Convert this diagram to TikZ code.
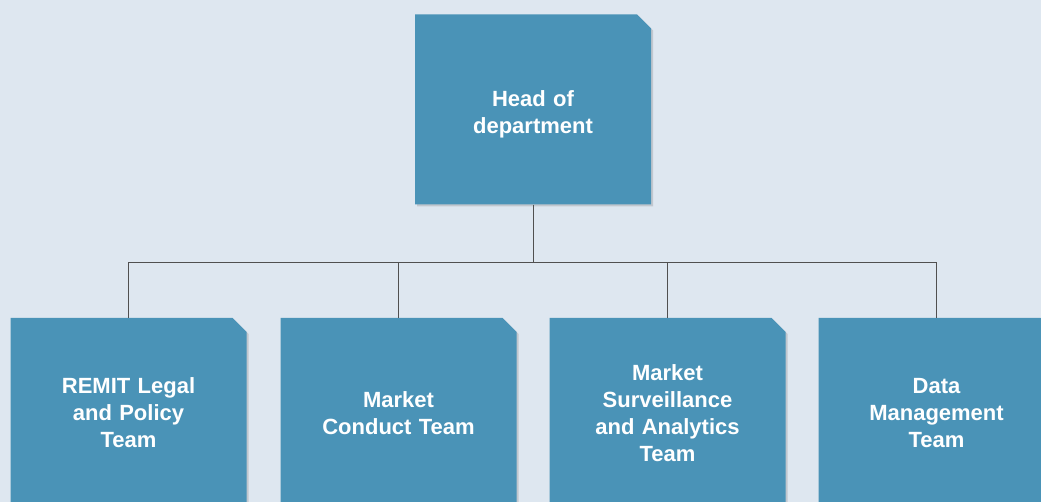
\documentclass[tikz,border=0pt]{standalone}
\usepackage{fontspec}
\setmainfont{Liberation Sans}
\usetikzlibrary{shapes.misc,shadows}

\definecolor{pagebg}{RGB}{222,231,240}
\definecolor{boxblue}{RGB}{74,147,183}
\definecolor{wire}{RGB}{80,80,80}

\begin{document}
\begin{tikzpicture}[x=1pt,y=-1pt,
    unit/.style={chamfered rectangle, chamfered rectangle corners=north east,
      chamfered rectangle xsep=7pt, chamfered rectangle ysep=7pt,
      fill=boxblue, draw=none, minimum width=236pt, minimum height=190pt,
      inner sep=0pt, text width=170pt, align=center, text=white,
      font=\bfseries\fontsize{22}{27}\selectfont,
      drop shadow={opacity=0.3, shadow xshift=2pt, shadow yshift=-2pt}}]
    \useasboundingbox (0,0) rectangle (1041,502);
    \clip (0,0) rectangle (1041,502);
    \fill[pagebg] (0,0) rectangle (1041,502);

    \node[unit] (head) at (533,109.5) {\rule{0pt}{26pt}Head of\\department};
    \node[unit] (legal) at (128.5,413) {REMIT Legal\\and Policy\\Team};
    \node[unit] (conduct) at (398.5,413) {Market\\Conduct Team};
    \node[unit] (surv) at (667.5,413) {Market\\Surveillance\\and Analytics\\Team};
    \node[unit] (data) at (936.5,413) {Data\\Management\\Team};

    \coordinate (fork) at (533,262);
    \draw[wire] (head.south) -- (fork);
    \foreach \team in {legal,conduct,surv,data}
      \draw[wire] (fork) -| (\team.north);
\end{tikzpicture}
\end{document}
